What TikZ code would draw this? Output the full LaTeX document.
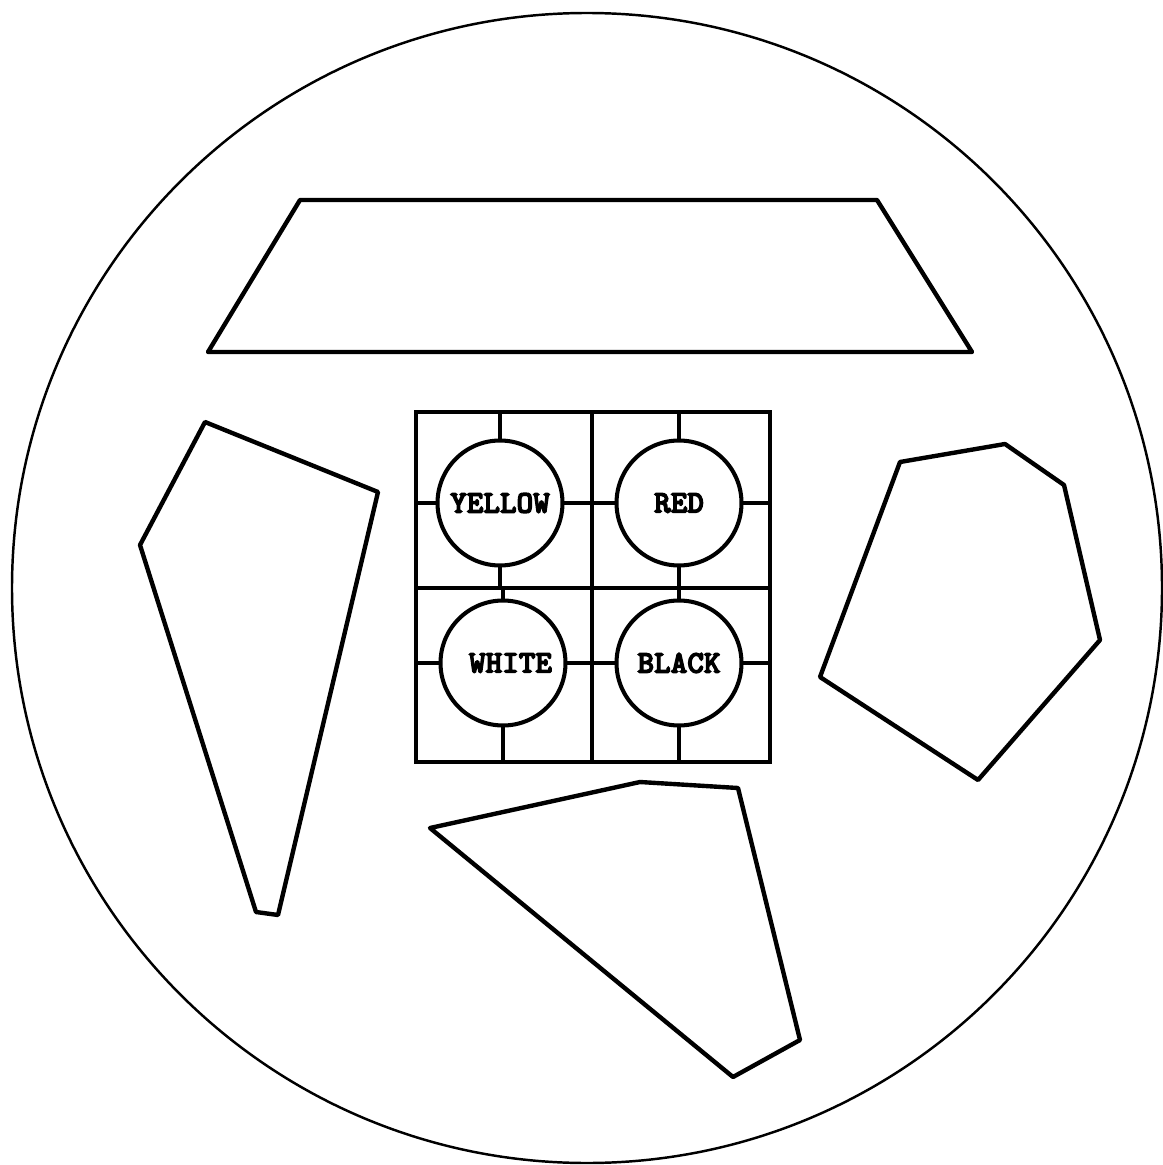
\documentclass[tikz,border=0pt]{standalone}
\usepackage{fontspec}
\newfontfamily\boardfont{lmmonolt10-bold.otf}[FakeBold=4]

\begin{document}
\begin{tikzpicture}[
  x=0.02cm, y=-0.02cm,
  plate/.style={line width=1.4pt},
  piece/.style={line width=2.5pt, line join=round},
  gridline/.style={line width=2pt},
  every node/.style={draw,circle,line width=2.3pt,minimum size=2.5cm,inner sep=0pt,fill=white,
    font=\boardfont\fontsize{18}{18}\selectfont}
]
  \useasboundingbox (0,0) rectangle (1162,1165);
  \draw[plate] (587,588) circle[radius=575];

  % pieces
  \draw[piece] (300,200) -- (877,200) -- (972,352) -- (208,352) -- cycle;
  \draw[piece] (205,422) -- (378,492) -- (278,915) -- (256,912) -- (140,545) -- cycle;
  \draw[piece] (900,462) -- (1005,444) -- (1064,485) -- (1100,640) -- (978,780) -- (820,677) -- cycle;
  \draw[piece] (430,828) -- (640,782) -- (738,788) -- (800,1040) -- (733,1077) -- cycle;

  % board
  \draw[gridline] (416,412) rectangle (770,762);
  \draw[gridline] (592,412) -- (592,762);
  \draw[gridline] (416,588) -- (770,588);
  \foreach \x/\y/\l/\t/\r/\b in {500/503/416/412/592/588, 679/503/592/412/770/588,
                                  503/663/416/588/592/762, 679/663/592/588/770/762}{
    \draw[gridline] (\x,\t) -- (\x,\b);
    \draw[gridline] (\l,\y) -- (\r,\y);
  }
  \node (yellow) at (500,503) {YELLOW};
  \node (red)    at (679,503) {RED\hspace{0.25cm}};
  \node (white)  at (503,663) {\hspace{0.3cm}WHITE};
  \node (black)  at (679,663) {BLACK};
\end{tikzpicture}
\end{document}
